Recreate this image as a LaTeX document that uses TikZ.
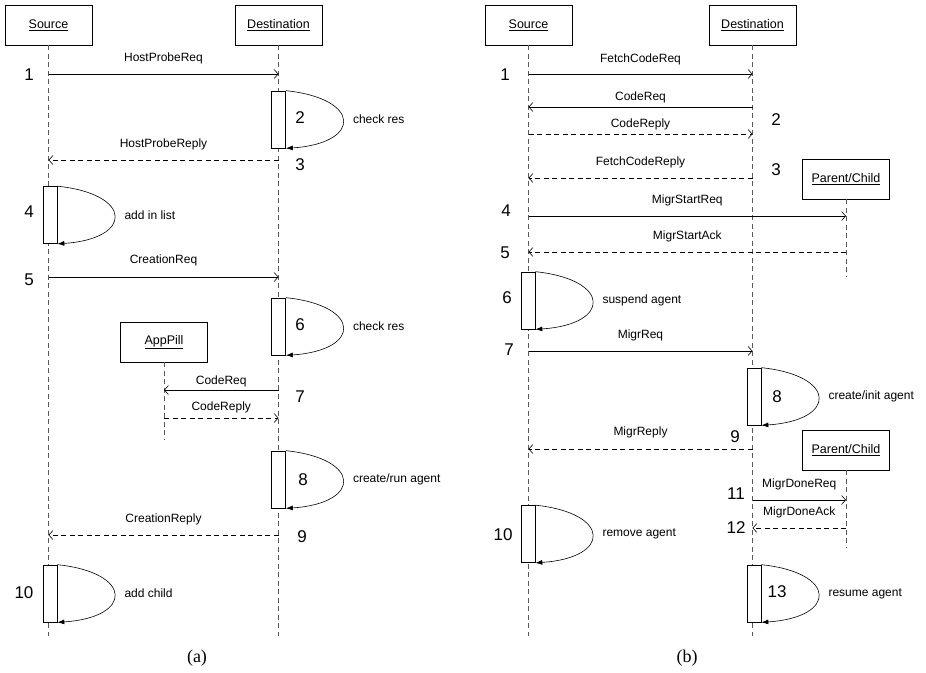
\documentclass[tikz,border=0pt]{standalone}
\usepackage{fontspec}
\setmainfont{Liberation Sans}
\newfontfamily\capfont{Liberation Serif}
\usetikzlibrary{arrows.meta}
\newcommand\msgarrow[7]{% name, x1, x2, y, label, style, gap
  \coordinate (#1a) at (#2,#4);
  \coordinate (#1b) at (#3,#4);
  \draw[#6] (#1a) -- node[lbl, anchor=base, yshift=#7pt] {#5} (#1b);}
\newcommand\actloop[4]{% name, x, ycenter, label
  \node[act] (#1) at (#2,#3) {};
  \draw[looparrow] (#1.north east) .. controls +(76,8) and +(76,-5) .. (#1.south east);
  \node[lbl, anchor=west] (#1t) at ([xshift=67pt]#1.east) {#4};}
\begin{document}
\begin{tikzpicture}[x=1pt,y=-1pt,
  obj/.style={draw, line width=0.8pt, fill=white, minimum width=87pt, minimum height=40pt, inner sep=0pt, font=\fontsize{12.5}{14}\selectfont},
  lifeline/.style={draw=black!65, line width=0.7pt, dash pattern=on 5pt off 3.5pt},
  act/.style={draw, line width=0.7pt, fill=white, minimum width=14pt, minimum height=57pt, inner sep=0pt},
  lbl/.style={inner sep=0pt, font=\fontsize{12}{14}\selectfont},
  num/.style={inner sep=0pt, font=\fontsize{17}{19}\selectfont},
  captext/.style={inner sep=0pt, font=\capfont\fontsize{18}{20}\selectfont},
  req/.style={line width=0.6pt, -{Straight Barb[length=4pt,width=9pt]}},
  rep/.style={req, dash pattern=on 5pt off 3.5pt},
  looparrow/.style={line width=0.6pt, -{Latex[length=7pt,width=5pt]}}
]
\useasboundingbox (0,0) rectangle (926,672);

%================ (a) =================
\node[obj] (srcA) at (48.5,25) {\underline{Source}};
\node[obj] (dstA) at (278.5,25) {\underline{Destination}};
\node[obj] (app) at (164,342) {\underline{AppPill}};
\coordinate (srcAend) at (48.5,636);
\coordinate (dstAend) at (278.5,636);
\coordinate (append) at (164,440);
\draw[lifeline] (srcA.south) -- (srcAend);
\draw[lifeline] (dstA.south) -- (dstAend);
\draw[lifeline] (app.south) -- (append);

\msgarrow{m1}{48.5}{278.5}{74}{HostProbeReq}{req}{13}
\actloop{aa2}{278.5}{119.5}{check res}
\msgarrow{m3}{278.5}{48.5}{160}{HostProbeReply}{rep}{13}
\actloop{aa4}{50}{215}{add in list}
\msgarrow{m5}{48.5}{278.5}{277}{CreationReq}{req}{14}
\actloop{aa6}{278.5}{326.5}{check res}
\msgarrow{m7}{278.5}{164}{390}{CodeReq}{req}{6}
\msgarrow{m7b}{164}{278.5}{418}{CodeReply}{rep}{8}
\actloop{aa8}{278.5}{479.5}{create/run agent}
\msgarrow{m9}{278.5}{48.5}{535}{CreationReply}{rep}{13}
\actloop{aa10}{50}{593.5}{add child}

\node[num] (na1) at (29,75) {1};
\node[num] (na2) at (300,118) {2};
\node[num] (na3) at (300,165) {3};
\node[num] (na4) at (29,212) {4};
\node[num] (na5) at (29,280) {5};
\node[num] (na6) at (300,325) {6};
\node[num] (na7) at (300,397) {7};
\node[num] (na8) at (303,480) {8};
\node[num] (na9) at (302,537) {9};
\node[num] (na10) at (24,593) {10};

\node[captext] (capa) at (197,658) {(a)};

%================ (b) =================
\node[obj] (srcB) at (528.5,25) {\underline{Source}};
\node[obj] (dstB) at (752.5,25) {\underline{Destination}};
\node[obj] (pc1) at (846,179) {\underline{Parent/Child}};
\node[obj] (pc2) at (846,450) {\underline{Parent/Child}};
\coordinate (srcBend) at (528.5,636);
\coordinate (dstBend) at (752.5,636);
\coordinate (pc1end) at (846,277);
\coordinate (pc2end) at (846,548);
\draw[lifeline] (srcB.south) -- (srcBend);
\draw[lifeline] (dstB.south) -- (dstBend);
\draw[lifeline] (pc1.south) -- (pc1end);
\draw[lifeline] (pc2.south) -- (pc2end);

\msgarrow{n1}{528.5}{752.5}{74}{FetchCodeReq}{req}{12}
\msgarrow{n2}{752.5}{528.5}{107}{CodeReq}{req}{7}
\msgarrow{n2b}{528.5}{752.5}{134}{CodeReply}{rep}{7}
\msgarrow{n3}{752.5}{528.5}{178}{FetchCodeReply}{rep}{13}
\msgarrow{n4}{528.5}{846}{216}{MigrStartReq}{req}{13}
\msgarrow{n5}{846}{528.5}{252}{MigrStartAck}{rep}{13}
\actloop{ab6}{528}{300.5}{suspend agent}
\msgarrow{n7}{528.5}{752.5}{351}{MigrReq}{req}{13}
\actloop{ab8}{754}{396.5}{create/init agent}
\msgarrow{n9}{752.5}{528.5}{449}{MigrReply}{rep}{14}
\msgarrow{n11}{752.5}{846}{500}{MigrDoneReq}{req}{13}
\msgarrow{n12}{846}{752.5}{528}{MigrDoneAck}{rep}{13}
\actloop{ab10}{528}{534}{remove agent}
\actloop{ab13}{754}{593.5}{resume agent}

\node[num] (nb1) at (505,75) {1};
\node[num] (nb2) at (776,120) {2};
\node[num] (nb3) at (776,170) {3};
\node[num] (nb4) at (506,211) {4};
\node[num] (nb5) at (505,253) {5};
\node[num] (nb6) at (507,298) {6};
\node[num] (nb7) at (509,350) {7};
\node[num] (nb8) at (777,397) {8};
\node[num] (nb9) at (735,437) {9};
\node[num] (nb10) at (503,535) {10};
\node[num] (nb11) at (736,494) {11};
\node[num] (nb12) at (736,528) {12};
\node[num] (nb13) at (777,592) {13};

\node[captext] (capb) at (687,658) {(b)};
\end{tikzpicture}
\end{document}
